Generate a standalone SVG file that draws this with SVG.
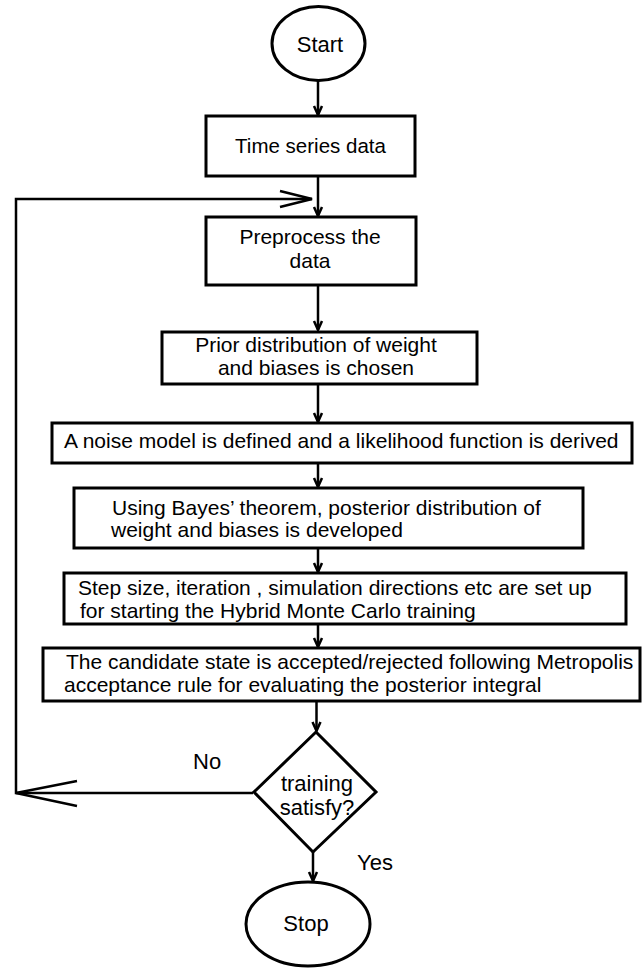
<svg xmlns="http://www.w3.org/2000/svg" width="644" height="973" viewBox="0 0 644 973">
<style>
.box{fill:#fff;stroke:#000;stroke-width:3}
.t{font-family:"Liberation Sans",Arial,sans-serif;font-size:21px;fill:#000}
.tl{font-family:"Liberation Sans",Arial,sans-serif;font-size:22px;fill:#000}
.c{text-anchor:middle}
.ln{fill:none;stroke:#000;stroke-width:2.5}
</style>
<rect width="644" height="973" fill="#fff"/>
<g id="connectors">
<line class="ln" x1="318" y1="80" x2="318" y2="115"/>
<polyline class="ln" points="314,106 318,115 322,106"/>
<line class="ln" x1="318" y1="176" x2="318" y2="216"/>
<polyline class="ln" points="314,207 318,216 322,207"/>
<line class="ln" x1="318" y1="285" x2="318" y2="330"/>
<polyline class="ln" points="314,321 318,330 322,321"/>
<line class="ln" x1="318" y1="384" x2="318" y2="422"/>
<polyline class="ln" points="314,413 318,422 322,413"/>
<line class="ln" x1="318" y1="463" x2="318" y2="487"/>
<polyline class="ln" points="314,478 318,487 322,478"/>
<line class="ln" x1="318" y1="548" x2="318" y2="572"/>
<polyline class="ln" points="314,563 318,572 322,563"/>
<line class="ln" x1="318" y1="624" x2="318" y2="647"/>
<polyline class="ln" points="314,638 318,647 322,638"/>
<line class="ln" x1="316.5" y1="701" x2="316.5" y2="731"/>
<polyline class="ln" points="312.5,722 316.5,731 320.5,722"/>
<line class="ln" x1="313" y1="852" x2="313" y2="881"/>
<polyline class="ln" points="309,872 313,881 317,872"/>
<polyline class="ln" points="253,793 16,793 16,199 312,199"/>
<polyline class="ln" points="280,191 312,199 280,207"/>
<polyline class="ln" points="77,781 16,793 77,806"/>
</g>
<g id="start">
<ellipse class="box" cx="318.5" cy="43.5" rx="46.5" ry="37"/>
<text class="tl c" x="320" y="52">Start</text>
</g>
<g id="n1">
<rect class="box" x="206" y="116" width="209" height="60"/>
<text class="t c" x="310.5" y="153" style="font-size:20.5px">Time series data</text>
</g>
<g id="n2">
<rect class="box" x="206" y="217" width="210" height="68"/>
<text class="t c" x="310" y="244">Preprocess the</text>
<text class="t c" x="310" y="268">data</text>
</g>
<g id="n3">
<rect class="box" x="162" y="332" width="315" height="52"/>
<text class="t c" x="316" y="352">Prior distribution of weight</text>
<text class="t c" x="316" y="375">and biases is chosen</text>
</g>
<g id="n4">
<rect class="box" x="52" y="423" width="580" height="40"/>
<text class="t" x="64" y="448">A noise model is defined and a likelihood function is derived</text>
</g>
<g id="n5">
<rect class="box" x="74" y="488" width="509" height="60"/>
<text class="t" x="112" y="515">Using Bayes’ theorem, posterior distribution of</text>
<text class="t" x="111" y="537">weight and biases is developed</text>
</g>
<g id="n6">
<rect class="box" x="64" y="573" width="562" height="51"/>
<text class="t" x="78" y="595">Step size, iteration , simulation directions etc are set up</text>
<text class="t" x="80" y="618"> for starting the Hybrid Monte Carlo training</text>
</g>
<g id="n7">
<rect class="box" x="43" y="648" width="597" height="53"/>
<text class="t" x="66" y="669">The candidate state is accepted/rejected following Metropolis</text>
<text class="t" x="64" y="692">acceptance rule for evaluating the posterior integral</text>
</g>
<g id="decision">
<polygon class="box" points="316,732 376,792 313,852 254,792"/>
<text class="tl c" x="317" y="791">training</text>
<text class="tl c" x="317" y="815">satisfy?</text>
</g>
<g id="stop">
<ellipse class="box" cx="308" cy="924" rx="62" ry="42"/>
<text class="tl c" x="306" y="931">Stop</text>
</g>
<g id="labels">
<text class="tl" x="193" y="769">No</text>
<text class="tl" x="357" y="870">Yes</text>
</g>
</svg>
